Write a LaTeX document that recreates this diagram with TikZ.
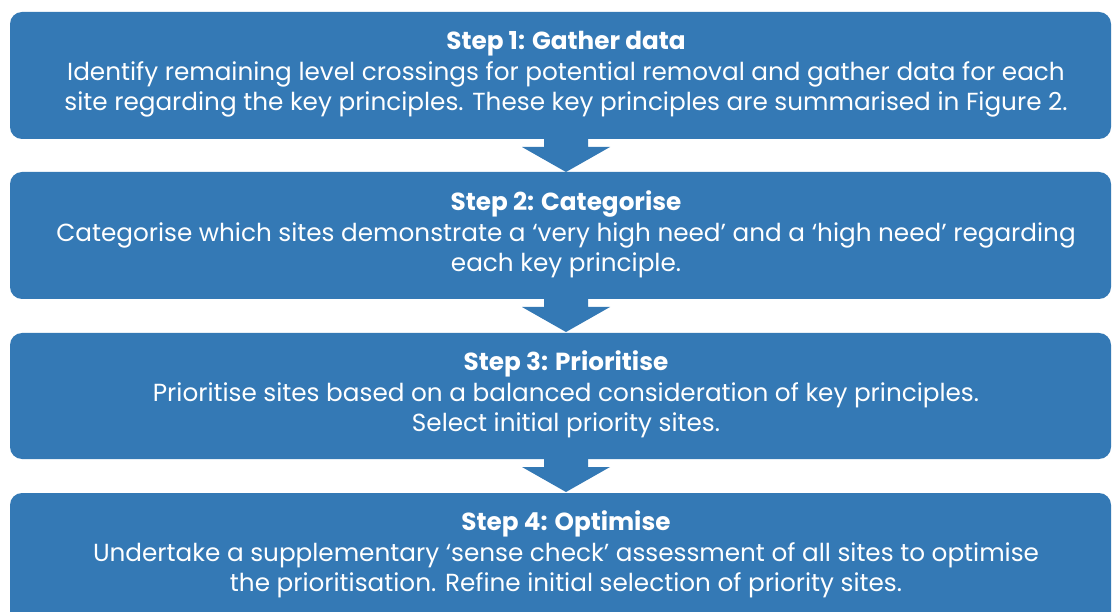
\documentclass[tikz,border=0pt]{standalone}
\usepackage{fontspec}
\setmainfont{Poppins}
\usetikzlibrary{calc}
\definecolor{stepblue}{HTML}{3479B5}
\begin{document}
\begin{tikzpicture}[x=1pt,y=-1pt,
  stepbox/.style={fill=stepblue,rounded corners=12pt},
  steptext/.style={text=white,align=center,font=\fontsize{24.7}{30.5}\selectfont,inner sep=0pt},
  downarrow/.style={fill=stepblue}]
\useasboundingbox (0,0) rectangle (1112,612);
\clip (0,0) rectangle (1112,612);
\fill[white] (0,0) rectangle (1112,612);
\path[stepbox] (10,12) rectangle (1111,139);
\path[stepbox] (10,172) rectangle (1111,299);
\path[stepbox] (10,333) rectangle (1111,459);
\path[stepbox] (10,493) rectangle (1111,625);
\node[coordinate] (b1) at (566,139) {};
\node[coordinate] (b2) at (566,299) {};
\node[coordinate] (b3) at (566,459) {};
\foreach \b in {b1,b2,b3}{
  \fill[downarrow] ($(\b)+(-22,-1)$) -- ($(\b)+(22,-1)$) -- ($(\b)+(22,8)$) -- ($(\b)+(44,8)$) -- ($(\b)+(0,33)$) -- ($(\b)+(-44,8)$) -- ($(\b)+(-22,8)$) -- cycle;
}
\node[steptext] (t1) at (566,74.5) {\textbf{Step 1: Gather data}\\Identify remaining level crossings for potential removal and gather data for each\\site regarding the key principles. These key principles are summarised in Figure 2.};
\node[steptext] (t2) at (566,234.5) {\textbf{Step 2: Categorise}\\Categorise which sites demonstrate a ‘very high need’ and a ‘high need’ regarding\\each key principle.};
\node[steptext] (t3) at (566,394.5) {\textbf{Step 3: Prioritise}\\Prioritise sites based on a balanced consideration of key principles.\\Select initial priority sites.};
\node[steptext] (t4) at (566,554.5) {\textbf{Step 4: Optimise}\\Undertake a supplementary ‘sense check’ assessment of all sites to optimise\\the prioritisation. Refine initial selection of priority sites.};
\end{tikzpicture}
\end{document}
